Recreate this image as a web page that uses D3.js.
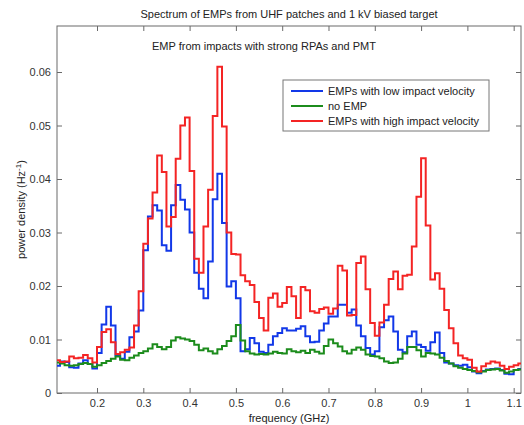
<!DOCTYPE html>
<html lang="en">
<head>
<meta charset="UTF-8">
<title>Spectrum of EMPs</title>
<style>
    html, body { margin: 0; padding: 0; background: #fff; overflow: hidden; }
    svg { display: block; font-family: "Liberation Sans", Arial, sans-serif; }
</style>
</head>
<body>
<div id="chart"></div>
<script src="https://cdn.jsdelivr.net/npm/d3@7"></script>
<script>
// bins: 0.01 GHz wide, first bin starts at 0.11 GHz
const binStart = 0.11;
const binWidth = 0.01;

const lowVelocity = [
    .0051, .0059, .0058, .0048, .0047, .0055, .0061, .0054, .0046, .0075,
    .0128, .0161, .0126, .0070, .0064, .0077, .0104, .0115, .0154, .0267,
    .0330, .0351, .0341, .0276, .0266, .0351, .0389, .0361, .0343, .0300,
    .0225, .0195, .0177, .0246, .0362, .0410, .0318, .0199, .0209, .0177,
    .0078, .0082, .0103, .0093, .0077, .0075, .0090, .0106, .0112, .0121,
    .0117, .0117, .0120, .0125, .0106, .0095, .0096, .0117, .0130, .0143,
    .0143, .0165, .0165, .0150, .0156, .0126, .0106, .0084, .0072, .0078,
    .0123, .0136, .0143, .0115, .0081, .0076, .0106, .0115, .0090, .0086,
    .0079, .0095, .0113, .0075, .0057, .0055, .0052, .0051, .0053, .0048,
    .0040, .0037, .0041, .0044, .0045, .0046, .0043, .0036, .0035, .0043,
    .0045
];
const noEmp = [
    .0057, .0055, .0052, .0051, .0052, .0054, .0056, .0054, .0049, .0052,
    .0056, .0060, .0064, .0068, .0062, .0061, .0066, .0070, .0075, .0078,
    .0083, .0091, .0086, .0082, .0086, .0098, .0104, .0102, .0100, .0097,
    .0090, .0080, .0083, .0078, .0074, .0082, .0088, .0097, .0106, .0127,
    .0098, .0078, .0074, .0072, .0073, .0072, .0074, .0077, .0075, .0074,
    .0082, .0078, .0076, .0079, .0075, .0081, .0077, .0074, .0088, .0100,
    .0093, .0087, .0078, .0074, .0081, .0085, .0081, .0072, .0069, .0068,
    .0065, .0059, .0056, .0057, .0064, .0074, .0086, .0086, .0080, .0068,
    .0075, .0074, .0072, .0066, .0060, .0055, .0050, .0047, .0045, .0043,
    .0041, .0039, .0040, .0043, .0044, .0045, .0042, .0038, .0040, .0043,
    .0044
];
const highVelocity = [
    .0061, .0058, .0059, .0068, .0065, .0066, .0071, .0065, .0057, .0086,
    .0114, .0119, .0095, .0073, .0076, .0081, .0085, .0126, .0190, .0279,
    .0326, .0375, .0444, .0413, .0311, .0329, .0438, .0500, .0515, .0415,
    .0251, .0225, .0311, .0380, .0518, .0610, .0498, .0300, .0260, .0259,
    .0220, .0209, .0202, .0170, .0140, .0117, .0178, .0186, .0161, .0168,
    .0198, .0181, .0140, .0198, .0192, .0153, .0150, .0157, .0160, .0148,
    .0158, .0238, .0229, .0145, .0146, .0243, .0255, .0194, .0131, .0107,
    .0132, .0165, .0213, .0227, .0194, .0219, .0221, .0274, .0367, .0439,
    .0313, .0212, .0224, .0195, .0155, .0121, .0093, .0070, .0065, .0062,
    .0047, .0040, .0050, .0055, .0059, .0057, .0051, .0045, .0049, .0052,
    .0055
];

const seriesNames = ['EMPs with low impact velocity', 'no EMP', 'EMPs with high impact velocity'];
const seriesColors = ['#1238e8', '#1c8c1c', '#f42424'];
const xTicks = [0.2, 0.3, 0.4, 0.5, 0.6, 0.7, 0.8, 0.9, 1, 1.1];
const yTicks = [0, 0.01, 0.02, 0.03, 0.04, 0.05, 0.06];

const W = 524, H = 425;
const margin = { top: 26, right: 3, bottom: 32, left: 57 };
const iw = W - margin.left - margin.right;
const ih = H - margin.top - margin.bottom;

const svg = d3.select('#chart').append('svg')
    .attr('width', W)
    .attr('height', H);

const x = d3.scaleLinear().domain([0.1136, 1.1158]).range([0, iw]);
const y = d3.scaleLinear().domain([0, 0.0686]).range([ih, 0]);

const g = svg.append('g')
    .attr('transform', `translate(${margin.left},${margin.top})`);

g.append('clipPath').attr('id', 'plotclip')
    .append('rect').attr('width', iw).attr('height', ih);

// axes, ticks pointing inward like matlab
const axisColor = '#6a6a6a';
function styleAxis(sel) {
    sel.selectAll('.domain').remove();
    sel.selectAll('line').attr('stroke', axisColor);
    sel.selectAll('text').attr('fill', '#333').attr('font-size', 11)
        .attr('font-family', '"Liberation Sans", Arial, sans-serif');
}

g.append('g')
    .attr('transform', `translate(0,${ih})`)
    .call(d3.axisBottom(x).tickValues(xTicks).tickSize(-5).tickPadding(6)
        .tickFormat(d => String(+d.toFixed(1))))
    .call(styleAxis);
g.append('g')
    .call(d3.axisTop(x).tickValues(xTicks).tickSize(-5).tickFormat(''))
    .call(styleAxis);
g.append('g')
    .call(d3.axisLeft(y).tickValues(yTicks).tickSize(-5).tickPadding(6)
        .tickFormat(d => d === 0 ? '0' : d3.format('.2f')(d)))
    .call(styleAxis);
g.append('g')
    .attr('transform', `translate(${iw},0)`)
    .call(d3.axisRight(y).tickValues(yTicks).tickSize(-5).tickFormat(''))
    .call(styleAxis);

g.append('rect')
    .attr('width', iw).attr('height', ih)
    .attr('fill', 'none').attr('stroke', axisColor).attr('stroke-width', 1);

// stairs
const line = d3.line()
    .x(d => x(d[0]))
    .y(d => y(d[1]))
    .curve(d3.curveStepAfter);

[lowVelocity, noEmp, highVelocity].forEach((vals, si) => {
    const pts = vals.map((v, i) => [binStart + i * binWidth, v]);
    pts.push([binStart + vals.length * binWidth, vals[vals.length - 1]]);
    g.append('path')
        .datum(pts)
        .attr('clip-path', 'url(#plotclip)')
        .attr('fill', 'none')
        .attr('stroke', seriesColors[si])
        .attr('stroke-width', 2)
        .attr('stroke-linejoin', 'miter')
        .attr('d', line);
});

// texts
svg.append('text')
    .attr('x', margin.left + iw / 2).attr('y', 18)
    .attr('text-anchor', 'middle').attr('font-size', 11).attr('fill', '#222')
    .text('Spectrum of EMPs from UHF patches and 1 kV biased target');

g.append('text')
    .attr('x', 95).attr('y', 24)
    .attr('font-size', 11).attr('fill', '#222')
    .text('EMP from impacts with strong RPAs and PMT');

svg.append('text')
    .attr('x', margin.left + iw / 2).attr('y', 422)
    .attr('text-anchor', 'middle').attr('font-size', 11).attr('fill', '#222')
    .text('frequency (GHz)');

const ylab = svg.append('text')
    .attr('transform', `translate(25,${margin.top + ih / 2}) rotate(-90)`)
    .attr('text-anchor', 'middle').attr('font-size', 11).attr('fill', '#222');
ylab.append('tspan').text('power density (Hz');
ylab.append('tspan').attr('font-size', 8).attr('dy', -4).text('-1');
ylab.append('tspan').attr('dy', 4).text(')');

// legend
const lg = svg.append('g').attr('transform', 'translate(283,80)');
lg.append('rect')
    .attr('width', 206).attr('height', 51)
    .attr('fill', '#fff').attr('stroke', '#777').attr('stroke-width', 1);
seriesNames.forEach((name, i) => {
    const row = lg.append('g').attr('transform', `translate(0,${11 + i * 15})`);
    row.append('line')
        .attr('x1', 8).attr('x2', 40)
        .attr('stroke', seriesColors[i]).attr('stroke-width', 2);
    row.append('text')
        .attr('x', 45).attr('dy', '0.35em')
        .attr('font-size', 11).attr('fill', '#222')
        .text(name);
});
</script>
</body>
</html>
